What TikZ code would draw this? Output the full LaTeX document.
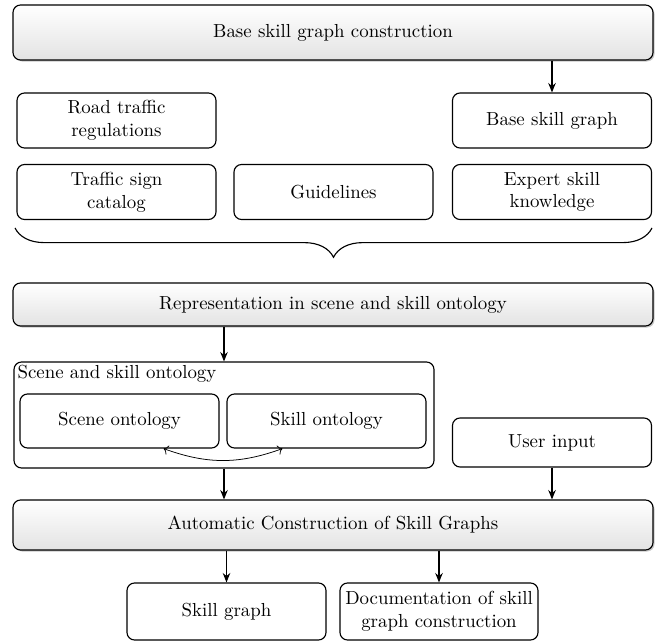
\documentclass[tikz,border=0pt]{standalone}
\usetikzlibrary{arrows.meta,shadows,decorations.pathreplacing}

\newcommand{\pxu}{0.53pt}
\tikzset{
    mainbox/.style={draw, line width=0.6pt, rounded corners=4pt, top color=white, bottom color=gray!22,
        drop shadow={shadow xshift=0.8pt, shadow yshift=-0.8pt, opacity=0.45},
        minimum width=640*\pxu, inner sep=1pt},
    smallbox/.style={draw, line width=0.6pt, rounded corners=4pt, fill=white, align=center,
        minimum width=199*\pxu, minimum height=55*\pxu, inner sep=1pt},
    flow/.style={semithick, -{Stealth[length=5pt,width=4pt]}}
}

\begin{document}
\begin{tikzpicture}[x=\pxu, y=-\pxu]
                \useasboundingbox (0,0) rectangle (656,644);

                \node[mainbox, minimum height=55*\pxu] (base) at (333,32.5) {Base skill graph construction};
                \node[smallbox] (road) at (116.5,120.5) {Road traffic\\regulations};
                \node[smallbox] (bsg) at (552,120.5) {Base skill graph};
                \node[smallbox] (sign) at (116.5,192) {Traffic sign\\catalog};
                \node[smallbox] (guide) at (333.5,192) {Guidelines};
                \node[smallbox] (expert) at (552,192) {Expert skill\\knowledge};
                \draw[flow] (base.south -| bsg.north) -- (bsg.north);

                \coordinate (brl) at (15,228);
                \coordinate (brr) at (652,228);
                \draw[semithick, decorate, decoration={brace, mirror, amplitude=15.5pt}] (brl) -- (brr);

                \node[mainbox, minimum height=43*\pxu] (repr) at (333,304.5) {Representation in scene and skill ontology};

                \node[draw, line width=0.6pt, rounded corners=4pt, minimum width=420*\pxu, minimum height=106*\pxu] (onto) at (224,415) {};
                \node[anchor=north west, inner sep=2pt] (ontolabel) at (onto.north west) {Scene and skill ontology};
                \node[smallbox, minimum height=54*\pxu] (scene) at (119.5,421) {Scene ontology};
                \node[smallbox, minimum height=54*\pxu] (skill) at (326.5,421) {Skill ontology};
                \draw[<->] ([xshift=44*\pxu]scene.south) to[bend right=20] ([xshift=-44*\pxu]skill.south);
                \node[smallbox, minimum height=49*\pxu] (user) at (552,442.5) {User input};
                \draw[flow] (repr.south -| onto.north) -- (onto.north);

                \node[mainbox, minimum height=50*\pxu] (auto) at (333,525) {Automatic Construction of Skill Graphs};
                \draw[flow] (onto.south) -- (auto.north -| onto.south);
                \draw[flow] (user.south) -- (auto.north -| user.south);

                \node[smallbox, minimum height=57*\pxu] (sg) at (226.5,611.5) {Skill graph};
                \node[smallbox, minimum width=198*\pxu, minimum height=57*\pxu] (doc) at (439,611.5) {Documentation of skill\\graph construction};
                \draw[flow] (auto.south -| sg.north) -- (sg.north);
                \draw[flow] (auto.south -| doc.north) -- (doc.north);
            \end{tikzpicture}
\end{document}
